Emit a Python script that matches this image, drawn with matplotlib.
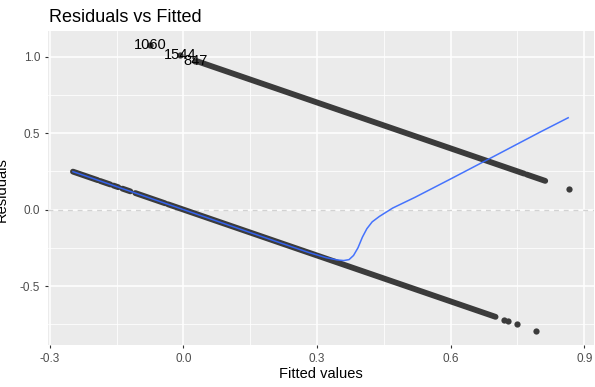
# Imports
import numpy as np
from matplotlib import pyplot as plt

# Data
# observed outcome (0/1) and dense runs of fitted values for each outcome
upperRuns = [(0.030, 0.765), (0.771, 0.8125)]          # observed = 1
lowerRuns = [(-0.248, -0.192), (-0.187, -0.164), (-0.157, -0.146),
             (-0.137, -0.119), (-0.108, -0.041), (-0.035, 0.701)]  # observed = 0
upperPoints = [-0.075, -0.007, 0.027, 0.866]
lowerPoints = [0.719, 0.730, 0.750, 0.792]

# labelled observations
labelNames = ['1060', '1544', '847']
labelFitted = [-0.075, -0.007, 0.027]

# smoother
smoothX = [-0.248, -0.15, -0.05, 0.0, 0.1, 0.2, 0.28, 0.32, 0.345, 0.36, 0.372,
           0.382, 0.392, 0.402, 0.412, 0.424, 0.44, 0.47, 0.52, 0.6, 0.7, 0.8, 0.864]
smoothY = [0.248, 0.15, 0.05, 0.0, -0.1, -0.2, -0.279, -0.314, -0.329, -0.333, -0.327,
           -0.30, -0.25, -0.18, -0.125, -0.08, -0.045, 0.01, 0.08, 0.2, 0.352, 0.505, 0.60]

xTicks = [-0.3, 0.0, 0.3, 0.6, 0.9]
yTicks = [-0.5, 0.0, 0.5, 1.0]

plt.rcParams['font.family'] = ['Liberation Sans', 'DejaVu Sans']

# Create our plot
fig = plt.figure(figsize=(5.95, 3.87), dpi=100)
ax = fig.add_axes([48 / 595, 1 - 345 / 387, 546 / 595, 314 / 387])
ax.set_facecolor('#EBEBEB')
for s in ax.spines.values():
    s.set_visible(False)

ax.set_xlim(-0.304, 0.922)
ax.set_ylim(-0.885, 1.167)
ax.set_xticks(xTicks)
ax.set_yticks(yTicks)
ax.set_xticklabels(['-0.3', '0.0', '0.3', '0.6', '0.9'])
ax.set_yticklabels(['-0.5', '0.0', '0.5', '1.0'])
ax.set_xticks([-0.15, 0.15, 0.45, 0.75], minor=True)
ax.set_yticks([-0.75, -0.25, 0.25, 0.75], minor=True)
ax.grid(which='major', color='white', linewidth=1.1)
ax.grid(which='minor', color='white', linewidth=0.55)
ax.set_axisbelow(True)
ax.tick_params(which='major', length=2.5, width=0.8, color='#333333',
               labelsize=8.5, labelcolor='#4D4D4D', pad=3)
ax.tick_params(which='minor', length=0)

# zero reference line
ax.axhline(0, color='#D2D2D2', linewidth=1.0, linestyle=(0, (3.5, 3.5)), zorder=1)

# residual = observed - fitted
ptColor = '#3B3B3B'
for a, b in upperRuns:
    f = np.array([a, b])
    ax.plot(f, 1 - f, color=ptColor, linewidth=4.2, solid_capstyle='round', zorder=2)
for a, b in lowerRuns:
    f = np.array([a, b])
    ax.plot(f, 0 - f, color=ptColor, linewidth=4.2, solid_capstyle='round', zorder=2)
up = np.array(upperPoints)
lo = np.array(lowerPoints)
ax.plot(up, 1 - up, 'o', color=ptColor, markersize=4.5, markeredgewidth=0, zorder=2)
ax.plot(lo, 0 - lo, 'o', color=ptColor, markersize=4.5, markeredgewidth=0, zorder=2)

# smooth line
ax.plot(smoothX, smoothY, color='#3366FF', linewidth=1.1, alpha=0.9, zorder=3)

# labels
for name, f in zip(labelNames, labelFitted):
    ax.text(f, 1 - f, name, fontsize=10.5, ha='center', va='center', color='black', zorder=4)

ax.set_xlabel('Fitted values', fontsize=10.5, labelpad=2)
fig.text(-5 / 595, 1 - 190 / 387, 'Residuals', rotation=90, fontsize=10.5,
         ha='left', va='center')
fig.text(49 / 595, 1 - 22 / 387, 'Residuals vs Fitted', fontsize=13, ha='left', va='baseline')

fig.savefig('out.png', dpi=100)
